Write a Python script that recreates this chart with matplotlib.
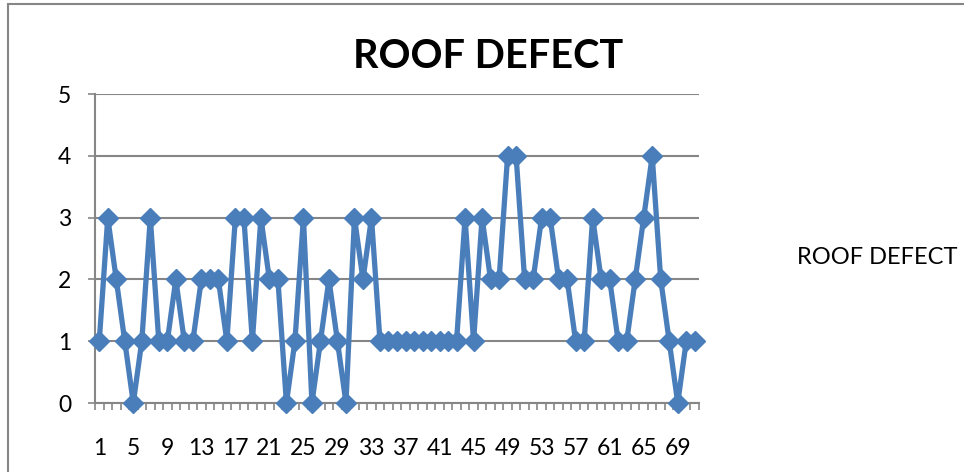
import numpy as np
import matplotlib.pyplot as plt
from matplotlib.patches import Rectangle

# defect counts per inspected roof, index 1..71
roof_idx = list(range(1, 72))
roof_defect = [1, 3, 2, 1, 0, 1, 3, 1, 1, 2,
               1, 1, 2, 2, 2, 1, 3, 3, 1, 3,
               2, 2, 0, 1, 3, 0, 1, 2, 1, 0,
               3, 2, 3, 1, 1, 1, 1, 1, 1, 1,
               1, 1, 1, 3, 1, 3, 2, 2, 4, 4,
               2, 2, 3, 3, 2, 2, 1, 1, 3, 2,
               2, 1, 1, 2, 3, 4, 2, 1, 0, 1,
               1]
x_labels = list(range(1, 72, 4))
y_ticks = [0, 1, 2, 3, 4, 5]

blue = '#4a7ebb'
grey = '#868686'
plt.rcParams['font.family'] = ['Lato', 'DejaVu Sans']

fig = plt.figure(figsize=(9.64, 4.72), dpi=100)
ax = fig.add_axes([95/964, 1-403/472, (699-95)/964, (403-94.2)/472])

# chart border
fig.patches.append(Rectangle((8/964, -0.1), 1.2, 1-4/472+0.1, transform=fig.transFigure,
                             fill=False, edgecolor=grey, linewidth=1.5))

ax.plot(roof_idx, roof_defect, color=blue, linewidth=3.8, marker='D',
        markersize=10.5, markerfacecolor=blue, markeredgecolor=blue, clip_on=False, zorder=3)

ax.set_xlim(0.5, len(roof_idx) + 0.5)
ax.set_ylim(0, 5)
ax.set_yticks(y_ticks)
ax.set_xticks(x_labels)
ax.set_xticklabels([str(v) for v in x_labels])
ax.set_xticks(np.arange(0.5, len(roof_idx) + 1, 1), minor=True)
ax.tick_params(axis='x', which='major', length=0, pad=25, labelsize=16.5)
ax.tick_params(axis='x', which='minor', length=5, width=1.2, color=grey, direction='out')
ax.tick_params(axis='y', which='major', length=5, width=1.2, color=grey, pad=12, labelsize=16.5)

for s in ['top', 'right']:
    ax.spines[s].set_visible(False)
for s in ['left', 'bottom']:
    ax.spines[s].set_color(grey)
    ax.spines[s].set_linewidth(1.5)

ax.yaxis.grid(True, color=grey, linewidth=1.5)
ax.set_axisbelow(True)

fig.text(488/964, 1-56/472, 'ROOF DEFECT', ha='center', va='center',
         fontsize=28.5, fontweight='bold')
fig.text(797/964, 1-257/472, 'ROOF DEFECT', ha='left', va='center', fontsize=17)

fig.savefig('out.png', dpi=100)
